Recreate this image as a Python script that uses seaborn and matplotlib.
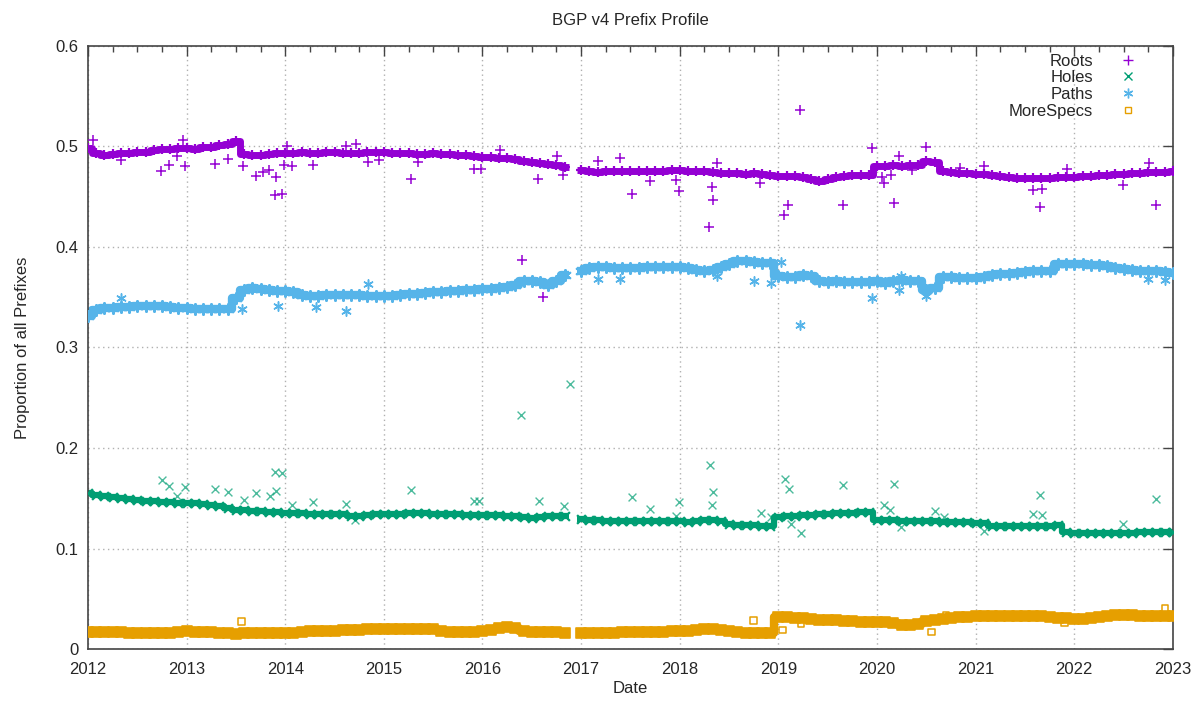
import numpy as np
import pandas as pd
import matplotlib
matplotlib.use("Agg")
import matplotlib.pyplot as plt
import seaborn as sns
from matplotlib.lines import Line2D
from matplotlib.ticker import MultipleLocator, FuncFormatter

# monthly readings, Jan 2012 .. Jan 2023 (Dec 2016 missing)
roots = [
    .498, .494, .492, .493, .494, .494, .495, .495, .496, .497, .497, .498,
    .498, .497, .499, .499, .501, .502, .505, .493, .492, .492, .493, .494,
    .494, .494, .495, .494, .494, .495, .495, .494, .494, .494, .495, .495,
    .495, .494, .494, .494, .493, .493, .494, .493, .493, .492, .492, .491,
    .490, .490, .489, .489, .488, .486, .485, .484, .483, .482, .480, np.nan,
    .477, .476, .475, .476, .476, .476, .476, .476, .476, .476, .476, .477,
    .477, .476, .476, .476, .475, .474, .474, .474, .473, .474, .473, .472,
    .471, .471, .471, .470, .468, .466, .468, .470, .471, .472, .472, .472,
    .481, .481, .482, .481, .482, .482, .486, .485, .476, .475, .474, .474,
    .473, .473, .472, .471, .470, .469, .469, .469, .469, .469, .470, .470,
    .470, .471, .471, .472, .472, .473, .473, .474, .474, .475, .475, .475,
    .476]
holes = [
    .155, .153, .152, .151, .150, .149, .148, .147, .147, .146, .146, .145,
    .145, .145, .144, .143, .142, .140, .138, .138, .137, .137, .136, .136,
    .135, .135, .135, .134, .134, .134, .134, .134, .132, .132, .133, .134,
    .134, .134, .134, .135, .135, .135, .134, .134, .134, .134, .133, .133,
    .133, .133, .133, .132, .132, .131, .130, .131, .132, .132, .132, np.nan,
    .129, .128, .128, .127, .127, .127, .127, .127, .127, .127, .127, .127,
    .127, .126, .127, .128, .128, .127, .124, .123, .123, .123, .122, .122,
    .131, .132, .132, .133, .133, .134, .134, .135, .135, .135, .136, .136,
    .128, .128, .128, .127, .127, .127, .127, .127, .126, .126, .126, .126,
    .125, .125, .122, .122, .122, .122, .122, .122, .122, .122, .123, .116,
    .115, .115, .115, .115, .115, .115, .115, .115, .116, .116, .116, .116,
    .116]
paths = [
    .331, .337, .339, .339, .340, .340, .341, .341, .341, .341, .340, .339,
    .339, .338, .338, .338, .338, .338, .349, .357, .359, .358, .357, .356,
    .356, .355, .352, .351, .351, .352, .352, .352, .352, .352, .351, .351,
    .351, .351, .352, .353, .353, .354, .355, .355, .356, .356, .357, .357,
    .358, .358, .359, .360, .362, .366, .366, .365, .362, .366, .372, np.nan,
    .376, .379, .380, .380, .379, .379, .379, .379, .380, .380, .380, .380,
    .380, .379, .377, .376, .377, .380, .383, .386, .386, .385, .384, .384,
    .371, .370, .370, .372, .371, .366, .365, .366, .365, .365, .365, .365,
    .366, .364, .366, .367, .366, .366, .357, .359, .370, .370, .369, .369,
    .369, .370, .372, .373, .373, .374, .375, .376, .376, .376, .383, .383,
    .383, .383, .382, .382, .381, .379, .378, .377, .376, .376, .376, .375,
    .374]
morespecs = [
    .017, .017, .017, .017, .017, .016, .016, .016, .016, .016, .016, .017,
    .018, .017, .017, .017, .016, .016, .015, .016, .016, .016, .016, .016,
    .016, .016, .017, .018, .018, .018, .018, .019, .019, .019, .020, .020,
    .020, .020, .020, .020, .020, .020, .020, .018, .017, .017, .017, .017,
    .018, .019, .021, .022, .021, .018, .017, .017, .017, .017, .016, np.nan,
    .016, .016, .016, .016, .016, .017, .017, .017, .017, .017, .017, .018,
    .018, .018, .019, .020, .020, .019, .018, .017, .016, .016, .016, .016,
    .032, .032, .031, .031, .030, .029, .029, .029, .028, .028, .027, .027,
    .027, .027, .026, .024, .024, .025, .028, .029, .030, .031, .032, .032,
    .033, .033, .033, .033, .033, .033, .033, .033, .033, .032, .031, .031,
    .030, .030, .031, .032, .033, .034, .034, .034, .033, .033, .033, .033,
    .033]

# scattered outliers (decimal year, value)
roots_out_t = [2012.05, 2012.33, 2012.74, 2012.82, 2012.90, 2012.96, 2012.98, 2013.29,
               2013.42, 2013.57, 2013.70, 2013.77, 2013.84, 2013.91, 2013.90, 2013.97,
               2013.99, 2014.07, 2014.02, 2014.28, 2014.62, 2014.72, 2014.84, 2014.95,
               2015.28, 2015.35, 2015.91, 2015.98, 2016.18, 2016.40, 2016.56, 2016.61,
               2016.82, 2016.76, 2017.17, 2017.39, 2017.52, 2017.70, 2017.96, 2017.99,
               2018.33, 2018.34, 2018.30, 2018.38, 2018.81, 2019.06, 2019.10, 2019.22,
               2019.65, 2019.95, 2020.22, 2020.50, 2020.05, 2020.07, 2020.14, 2020.17,
               2020.35, 2020.84, 2021.08, 2021.58, 2021.67, 2021.65, 2021.93, 2022.49,
               2022.76, 2022.83]
roots_out_v = [.506, .487, .476, .482, .491, .506, .481, .483,
               .488, .481, .471, .475, .477, .470, .452, .453,
               .482, .481, .500, .482, .500, .502, .485, .487,
               .468, .485, .478, .478, .496, .387, .468, .350,
               .472, .491, .486, .489, .453, .466, .467, .456,
               .460, .447, .420, .484, .464, .432, .442, .536,
               .442, .498, .491, .499, .470, .464, .472, .444,
               .477, .479, .481, .457, .458, .440, .478, .462,
               .484, .442]
holes_out_t = [2012.75, 2012.82, 2012.98, 2012.90, 2013.29, 2013.42, 2013.58, 2013.70,
               2013.85, 2013.91, 2013.90, 2013.97, 2014.07, 2014.28, 2014.62, 2014.71,
               2015.28, 2015.91, 2015.96, 2016.39, 2016.57, 2016.83, 2016.89, 2017.52,
               2017.70, 2017.99, 2017.96, 2018.31, 2018.34, 2018.33, 2018.82, 2018.93,
               2019.07, 2019.11, 2019.13, 2019.23, 2019.65, 2020.17, 2020.07, 2020.13,
               2020.24, 2020.59, 2020.68, 2021.08, 2021.58, 2021.65, 2021.67, 2022.49,
               2022.83]
holes_out_v = [.168, .162, .161, .152, .159, .156, .148, .155,
               .152, .157, .176, .175, .143, .146, .144, .128,
               .158, .147, .147, .233, .147, .142, .264, .151,
               .139, .146, .132, .183, .156, .143, .135, .131,
               .169, .159, .124, .115, .163, .164, .143, .138,
               .121, .137, .131, .117, .134, .153, .133, .124,
               .149]
paths_out_t = [2012.33, 2013.93, 2014.31, 2014.62, 2013.56, 2014.84, 2017.17, 2017.39,
               2018.38, 2018.75, 2019.22, 2018.93, 2019.03, 2019.95, 2020.24, 2020.50,
               2020.22, 2022.75, 2022.92]
paths_out_v = [.349, .341, .340, .336, .338, .363, .368, .368,
               .371, .366, .322, .364, .385, .349, .371, .351,
               .357, .368, .367]
more_out_t = [2013.56, 2018.75, 2019.04, 2019.23, 2020.55, 2020.70, 2021.90, 2022.92]
more_out_v = [.027, .028, .019, .025, .017, .033, .026, .040]

months = pd.date_range("2012-01-01", "2023-01-01", freq="MS")
t = months.year + (months.month - 1) / 12.0
df = pd.DataFrame({"t": t, "Roots": roots, "Holes": holes,
                   "Paths": paths, "MoreSpecs": morespecs})

c_roots = "#9400d3"
c_holes = "#009e73"
c_paths = "#56b4e9"
c_more = "#e69f00"
asterisk = (6, 2, 0)

sns.set_style("white")
plt.rcParams["font.family"] = ["Liberation Sans", "DejaVu Sans"]

fig = plt.figure(figsize=(11.92, 7.04), dpi=100)
ax = fig.add_axes([0.0738, 0.0781, 0.9102, 0.8566])

# dense daily samples show up as a thick band: a wide step line under the markers
for col, c, lw in [("Roots", c_roots, 5), ("Holes", c_holes, 4.5),
                   ("Paths", c_paths, 6), ("MoreSpecs", c_more, 6)]:
    ax.plot(df["t"], df[col], color=c, lw=lw, drawstyle="steps-mid",
            solid_capstyle="butt", zorder=2)

sns.scatterplot(data=df, x="t", y="Roots", marker="+", color=c_roots, s=55, linewidth=1.6, ax=ax, zorder=3)
sns.scatterplot(data=df, x="t", y="Holes", marker="x", color=c_holes, s=40, linewidth=1.6, ax=ax, zorder=3)
sns.scatterplot(data=df, x="t", y="Paths", marker=asterisk, color=c_paths, s=60, linewidth=1.6, ax=ax, zorder=3)
ax.scatter(df["t"], df["MoreSpecs"], marker="s", s=50, facecolor=c_more, edgecolor=c_more,
           linewidth=1.2, zorder=3)

# outliers
sns.scatterplot(x=roots_out_t, y=roots_out_v, marker="+", color=c_roots, s=45, linewidth=1.1, ax=ax, zorder=4)
sns.scatterplot(x=holes_out_t, y=holes_out_v, marker="x", color=c_holes, s=32, linewidth=1.0, alpha=0.7, ax=ax, zorder=4)
sns.scatterplot(x=paths_out_t, y=paths_out_v, marker=asterisk, color=c_paths, s=45, linewidth=1.1, ax=ax, zorder=4)
ax.scatter(more_out_t, more_out_v, marker="s", s=24, facecolor="none", edgecolor=c_more, linewidth=1.1, zorder=4)

ax.set_xlim(2012, 2023)
ax.set_ylim(0, 0.6)
ax.xaxis.set_major_locator(MultipleLocator(1))
ax.xaxis.set_minor_locator(MultipleLocator(0.25))
ax.xaxis.set_major_formatter(FuncFormatter(lambda v, p: "%d" % round(v)))
ax.yaxis.set_major_locator(MultipleLocator(0.1))
ax.yaxis.set_major_formatter(FuncFormatter(lambda v, p: "0" if abs(v) < 1e-9 else "%.1f" % v))
ax.tick_params(which="both", direction="in", top=True, right=True, labelsize=12, color="#444444")
ax.tick_params(axis="x", pad=9)
ax.tick_params(axis="y", pad=7)
ax.tick_params(which="major", length=7, width=1)
ax.tick_params(which="minor", length=4, width=1)
ax.grid(True, which="major", color="#b0b0b0", linestyle=(0, (1, 2.5)), linewidth=1)
for sp in ax.spines.values():
    sp.set_color("#444444")
    sp.set_linewidth(1.2)

ax.set_title("BGP v4 Prefix Profile", fontsize=12, pad=15)
ax.set_xlabel("Date", fontsize=12, labelpad=3)
ax.set_ylabel("Proportion of all Prefixes", fontsize=12, labelpad=18)

handles = [
    Line2D([], [], linestyle="none", marker="+", color=c_roots, markersize=7, markeredgewidth=1),
    Line2D([], [], linestyle="none", marker="x", color=c_holes, markersize=6, markeredgewidth=1),
    Line2D([], [], linestyle="none", marker=asterisk, color=c_paths, markersize=7, markeredgewidth=1),
    Line2D([], [], linestyle="none", marker="s", markerfacecolor="none", markeredgecolor=c_more,
           markersize=5, markeredgewidth=1),
]
ax.legend(handles, ["Roots", "Holes", "Paths", "MoreSpecs"], loc="upper right",
          bbox_to_anchor=(0.978, 1.008), markerfirst=False, frameon=False, fontsize=12,
          handlelength=1.0, handletextpad=1.6, labelspacing=0.1, borderaxespad=0.35)

fig.savefig("out.png", dpi=100)
